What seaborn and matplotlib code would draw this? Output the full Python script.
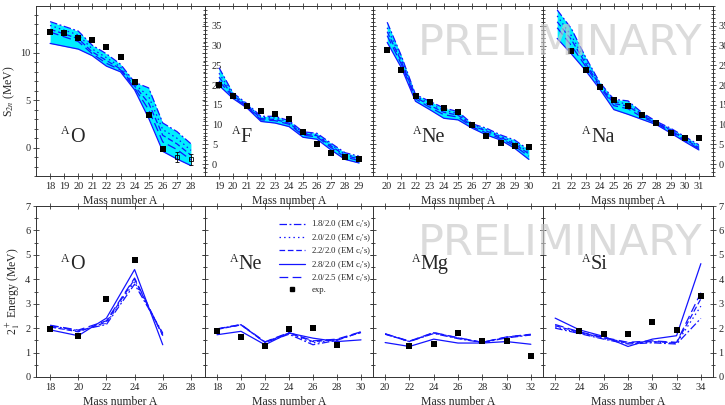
import numpy as np
import matplotlib
matplotlib.use('Agg')
import matplotlib.pyplot as plt
import seaborn as sns
from matplotlib.ticker import MultipleLocator, FixedLocator
from matplotlib.lines import Line2D

# ---------------- data ----------------
models = ['1.8/2.0', '2.0/2.0', '2.2/2.0', '2.8/2.0', '2.0/2.5']

# S2n, top row
s2n_O_x = list(range(18, 29))
s2n_O_m18 = [13.3, 12.8, 12.3, 10.8, 9.9, 8.8, 6.9, 6.3, 2.6, 1.7, 0.4]
s2n_O_m20 = [12.9, 12.4, 11.9, 10.4, 9.5, 8.5, 6.7, 5.4, 1.9, 1.0, -0.3]
s2n_O_m22 = [12.5, 12.0, 11.5, 10.1, 9.2, 8.3, 6.5, 4.7, 1.3, 0.4, -0.8]
s2n_O_m28 = [11.0, 10.7, 10.4, 9.7, 8.6, 8.0, 6.1, 3.1, -0.4, -1.2, -1.9]
s2n_O_m25 = [12.2, 11.7, 11.2, 9.9, 8.9, 8.2, 6.3, 4.0, 0.6, -0.2, -1.3]
s2n_O_exp_x = list(range(18, 27))
s2n_O_exp = [12.2, 12.05, 11.55, 11.4, 10.65, 9.55, 6.9, 3.4, -0.1]
s2n_O_est_x = [27, 28]
s2n_O_est = [-1.0, -1.25]
s2n_O_est_err = [0.5, 0.6]

s2n_F_x = list(range(19, 30))
s2n_F_m18 = [24.4, 18.0, 15.3, 12.1, 12.1, 11.0, 8.2, 7.8, 5.3, 2.9, 2.0]
s2n_F_m20 = [23.0, 17.6, 15.0, 11.8, 11.7, 10.7, 7.9, 7.5, 4.9, 2.5, 1.6]
s2n_F_m22 = [22.0, 17.3, 14.8, 11.5, 11.3, 10.4, 7.6, 7.2, 4.6, 2.2, 1.3]
s2n_F_m28 = [19.9, 16.6, 14.2, 10.8, 10.4, 9.5, 6.8, 6.3, 3.6, 1.2, 0.3]
s2n_F_m25 = [21.0, 17.0, 14.5, 11.2, 11.0, 10.1, 7.3, 6.9, 4.2, 1.8, 0.9]
s2n_F_exp_x = list(range(19, 30))
s2n_F_exp = [19.9, 17.2, 14.8, 13.4, 12.7, 11.4, 8.1, 5.0, 2.9, 1.9, 1.2]

s2n_Ne_x = list(range(20, 31))
s2n_Ne_m18 = [35.9, 27.4, 17.6, 15.9, 14.2, 13.3, 10.2, 9.1, 7.4, 6.1, 3.6]
s2n_Ne_m20 = [34.5, 26.6, 17.2, 15.3, 13.6, 12.8, 9.9, 8.7, 7.1, 5.5, 3.0]
s2n_Ne_m22 = [33.5, 26.0, 16.9, 14.9, 13.1, 12.4, 9.7, 8.4, 6.8, 5.1, 2.6]
s2n_Ne_m28 = [30.8, 24.4, 15.9, 13.8, 11.6, 11.2, 9.1, 7.4, 6.1, 4.0, 1.2]
s2n_Ne_m25 = [32.5, 25.3, 16.5, 14.4, 12.5, 11.9, 9.4, 7.9, 6.5, 4.6, 2.0]
s2n_Ne_exp_x = list(range(20, 31))
s2n_Ne_exp = [28.8, 23.8, 17.2, 15.6, 14.2, 13.1, 9.8, 7.1, 5.3, 4.7, 4.4]

s2n_Na_x = list(range(21, 32))
s2n_Na_m18 = [39.0, 34.3, 27.1, 20.7, 16.4, 16.0, 13.0, 10.8, 9.1, 7.0, 4.9]
s2n_Na_m20 = [37.5, 32.5, 26.2, 20.3, 15.8, 15.2, 12.6, 10.6, 8.8, 6.6, 4.5]
s2n_Na_m22 = [36.0, 31.5, 25.5, 20.0, 15.3, 14.7, 12.3, 10.5, 8.6, 6.3, 4.2]
s2n_Na_m28 = [31.8, 27.9, 23.7, 19.0, 13.8, 12.6, 11.3, 10.0, 7.9, 5.7, 3.6]
s2n_Na_m25 = [34.5, 30.0, 24.8, 19.6, 14.8, 14.0, 11.9, 10.3, 8.3, 6.0, 3.9]
s2n_Na_exp_x = list(range(22, 32))
s2n_Na_exp = [28.6, 23.8, 19.6, 16.1, 14.7, 12.4, 10.4, 8.0, 6.7, 6.7]

# 2+ energies, bottom row
e2_O_x = [18, 20, 22, 24, 26]
e2_O_m18 = [2.10, 1.90, 2.15, 3.80, 1.80]
e2_O_m20 = [2.05, 1.88, 2.20, 3.90, 1.75]
e2_O_m22 = [2.05, 1.85, 2.25, 4.00, 1.70]
e2_O_m28 = [1.93, 1.69, 2.41, 4.40, 1.32]
e2_O_m25 = [2.12, 1.92, 2.30, 4.05, 1.70]
e2_O_exp_x = [18, 20, 22, 24]
e2_O_exp = [1.96, 1.66, 3.20, 4.77]

e2_Ne_x = [18, 20, 22, 24, 26, 28, 30]
e2_Ne_m18 = [1.96, 2.14, 1.41, 1.75, 1.32, 1.50, 1.85]
e2_Ne_m20 = [1.96, 2.14, 1.42, 1.78, 1.40, 1.52, 1.83]
e2_Ne_m22 = [1.95, 2.13, 1.43, 1.80, 1.45, 1.53, 1.82]
e2_Ne_m28 = [1.73, 1.87, 1.32, 1.80, 1.59, 1.45, 1.52]
e2_Ne_m25 = [1.97, 2.15, 1.44, 1.82, 1.48, 1.55, 1.85]
e2_Ne_exp_x = [18, 20, 22, 24, 26, 28]
e2_Ne_exp = [1.89, 1.63, 1.28, 1.98, 2.02, 1.29]

e2_Mg_x = [20, 22, 24, 26, 28, 30, 32]
e2_Mg_m18 = [1.76, 1.45, 1.78, 1.57, 1.41, 1.60, 1.72]
e2_Mg_m20 = [1.76, 1.45, 1.80, 1.59, 1.41, 1.62, 1.73]
e2_Mg_m22 = [1.75, 1.46, 1.81, 1.60, 1.42, 1.63, 1.74]
e2_Mg_m28 = [1.41, 1.25, 1.55, 1.39, 1.39, 1.45, 1.34]
e2_Mg_m25 = [1.77, 1.47, 1.82, 1.61, 1.42, 1.64, 1.75]
e2_Mg_exp_x = [22, 24, 26, 28, 30, 32]
e2_Mg_exp = [1.25, 1.34, 1.80, 1.47, 1.47, 0.88]

e2_Si_x = [22, 24, 26, 28, 30, 32, 34]
e2_Si_m18 = [2.00, 1.78, 1.55, 1.35, 1.40, 1.35, 2.40]
e2_Si_m20 = [2.05, 1.80, 1.57, 1.38, 1.43, 1.38, 2.90]
e2_Si_m22 = [2.10, 1.83, 1.60, 1.40, 1.45, 1.40, 3.20]
e2_Si_m28 = [2.41, 1.93, 1.66, 1.25, 1.55, 1.69, 4.64]
e2_Si_m25 = [2.15, 1.85, 1.62, 1.42, 1.48, 1.42, 3.45]
e2_Si_exp_x = [24, 26, 28, 30, 32, 34]
e2_Si_exp = [1.87, 1.77, 1.76, 2.24, 1.93, 3.31]

# ---------------- style ----------------
sns.set_style('ticks')
plt.rcParams['font.family'] = ['Liberation Serif', 'DejaVu Serif']
plt.rcParams['mathtext.fontset'] = 'stix'

BLUE = '#1414ff'
CYAN = '#00eeff'
dashes = [(0, (6, 2, 1.5, 2)), (0, (1.2, 2.5)), (0, (4.5, 2.2)), '-', (0, (7, 3.5))]

W, H = 725, 405
fig = plt.figure(figsize=(W / 100, H / 100), dpi=100)
lefts = [36, 205, 373, 543]
widths = [169, 168, 170, 170]


def make_ax(i, top, bottom):
    return fig.add_axes([lefts[i] / W, (H - bottom) / H, widths[i] / W, (bottom - top) / H])


def style_ax(ax, xticks, yticks, ymin):
    for sp in ax.spines.values():
        sp.set_visible(True)
        sp.set_linewidth(0.7)
        sp.set_color('#333333')
    ax.xaxis.set_major_locator(FixedLocator(xticks))
    ax.yaxis.set_major_locator(FixedLocator(yticks))
    ax.yaxis.set_minor_locator(MultipleLocator(ymin))
    ax.tick_params(which='both', direction='inout', top=True, right=True,
                   width=0.6, color='#333333', labelsize=7.5, pad=1.5)
    ax.tick_params(which='major', length=5)
    ax.tick_params(which='minor', length=3)
    ax.set_xlabel('Mass number A', fontsize=8.5, labelpad=3)
    ax.set_ylabel('')


def draw_models(ax, x, series, band):
    if band:
        arr = np.array(series)
        ax.fill_between(x, arr.min(axis=0), arr.max(axis=0), color=CYAN, lw=0, zorder=1)
    for s, ls in zip(series, dashes):
        sns.lineplot(x=x, y=s, ax=ax, color=BLUE, linestyle=ls, lw=0.9, zorder=2, legend=False)


def draw_exp(ax, x, y):
    sns.scatterplot(x=x, y=y, ax=ax, marker='s', color='black', s=16, linewidth=0,
                    zorder=5, legend=False)


def elem(ax, name, xf, yf):
    ax.annotate('A', xy=(xf, yf), xycoords='axes fraction', xytext=(0, 5.5),
                textcoords='offset points', fontsize=8.5, ha='left', va='baseline')
    ax.annotate(name, xy=(xf, yf), xycoords='axes fraction', xytext=(6.4, 0),
                textcoords='offset points', fontsize=14.5, ha='left', va='baseline')


# ---------- top row ----------
top_data = [
    ('O', s2n_O_x, [s2n_O_m18, s2n_O_m20, s2n_O_m22, s2n_O_m28, s2n_O_m25], s2n_O_exp_x, s2n_O_exp, (17, 29), 0.15),
    ('F', s2n_F_x, [s2n_F_m18, s2n_F_m20, s2n_F_m22, s2n_F_m28, s2n_F_m25], s2n_F_exp_x, s2n_F_exp, (18, 30), 0.16),
    ('Ne', s2n_Ne_x, [s2n_Ne_m18, s2n_Ne_m20, s2n_Ne_m22, s2n_Ne_m28, s2n_Ne_m25], s2n_Ne_exp_x, s2n_Ne_exp, (19, 31), 0.235),
    ('Na', s2n_Na_x, [s2n_Na_m18, s2n_Na_m20, s2n_Na_m22, s2n_Na_m28, s2n_Na_m25], s2n_Na_exp_x, s2n_Na_exp, (20, 32), 0.23),
]
for i, (name, x, series, ex, ey, xl, xf) in enumerate(top_data):
    ax = make_ax(i, 6, 176)
    draw_models(ax, x, series, True)
    draw_exp(ax, ex, ey)
    xt = list(range(xl[0] + 1, xl[1]))
    if name == 'O':
        ax.errorbar(s2n_O_est_x, s2n_O_est, yerr=s2n_O_est_err, fmt='s', mfc='none',
                    mec='black', ms=3.5, mew=0.6, ecolor='black', elinewidth=0.6,
                    capsize=1.5, zorder=6)
        ax.set_ylim(-3, 14.95)
        style_ax(ax, xt, [0, 5, 10], 1)
        ax.set_ylabel('S$_{2n}$ (MeV)', fontsize=8.5, labelpad=2)
    else:
        ax.set_ylim(-3, 40)
        style_ax(ax, xt, list(range(0, 40, 5)), 1)
        if i == 1:
            ax.tick_params(axis='y', which='major', pad=-7.5)
            for lbl in ax.get_yticklabels():
                lbl.set_horizontalalignment('left')
        elif i == 2:
            ax.tick_params(axis='y', labelleft=False)
        else:
            ax.tick_params(axis='y', labelleft=False, labelright=True)
    ax.set_xlim(*xl)
    elem(ax, name, xf, 0.2)

# ---------- bottom row ----------
bot_data = [
    ('O', e2_O_x, [e2_O_m18, e2_O_m20, e2_O_m22, e2_O_m28, e2_O_m25], e2_O_exp_x, e2_O_exp, (17, 29), 0.149),
    ('Ne', e2_Ne_x, [e2_Ne_m18, e2_Ne_m20, e2_Ne_m22, e2_Ne_m28, e2_Ne_m25], e2_Ne_exp_x, e2_Ne_exp, (17, 31), 0.149),
    ('Mg', e2_Mg_x, [e2_Mg_m18, e2_Mg_m20, e2_Mg_m22, e2_Mg_m28, e2_Mg_m25], e2_Mg_exp_x, e2_Mg_exp, (19, 33), 0.229),
    ('Si', e2_Si_x, [e2_Si_m18, e2_Si_m20, e2_Si_m22, e2_Si_m28, e2_Si_m25], e2_Si_exp_x, e2_Si_exp, (21, 35), 0.229),
]
for i, (name, x, series, ex, ey, xl, xf) in enumerate(bot_data):
    ax = make_ax(i, 206, 377)
    draw_models(ax, x, series, False)
    draw_exp(ax, ex, ey)
    ax.set_ylim(0, 7)
    ax.set_xlim(*xl)
    style_ax(ax, list(range(xl[0] + 1, xl[1], 2)), list(range(0, 8)), 0.5)
    if i == 0:
        ax.set_ylabel('2$^+_1$ Energy (MeV)', fontsize=8.5, labelpad=2)
    elif i == 3:
        ax.tick_params(axis='y', labelleft=False, labelright=True)
    else:
        ax.tick_params(axis='y', labelleft=False)
    elem(ax, name, xf, 0.63)
    if name == 'Ne':
        handles = [Line2D([], [], color=BLUE, lw=0.9, linestyle=ls) for ls in dashes]
        handles.append(Line2D([], [], color='black', marker='s', ms=3, lw=0))
        labels = [m + r" (EM c$_{i}$'s)" for m in models] + ['exp.']
        ax.legend(handles, labels, loc='upper left', bbox_to_anchor=(0.44, 0.925),
                  frameon=False, fontsize=6.3, handlelength=3.0, handletextpad=0.7,
                  labelspacing=0.2, borderpad=0, borderaxespad=0)

# watermark
for yb in [(H - 55) / H, (H - 255) / H]:
    fig.text(0.773, yb, 'PRELIMINARY', fontsize=31, family='DejaVu Sans',
             color='#c8c8c8', alpha=0.65, ha='center', va='baseline', zorder=10)

fig.savefig('out.png', dpi=100)
